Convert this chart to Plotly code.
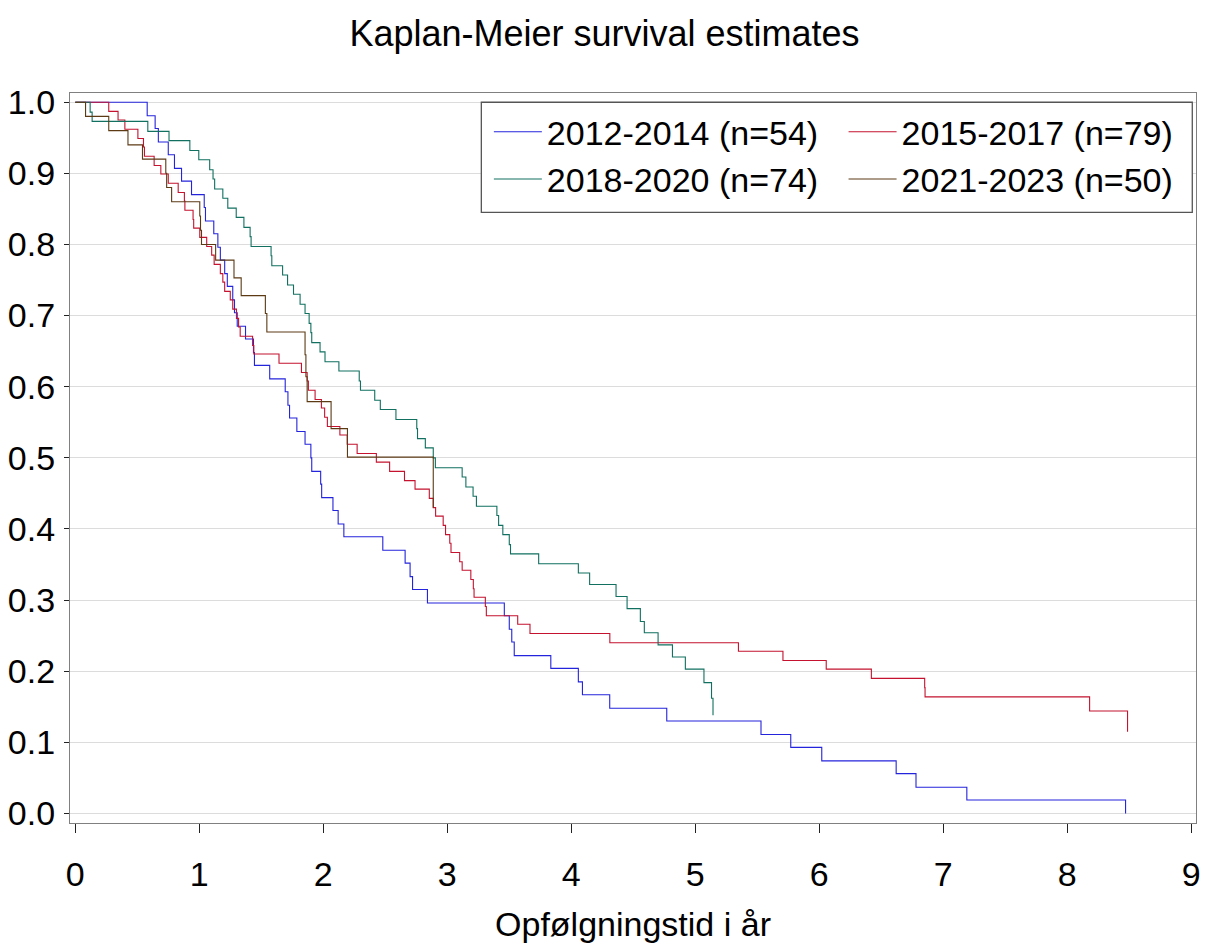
import plotly.graph_objects as go

# Kaplan-Meier step data per diagnosis period: event times (years) and survival after each event
t_2012 = [0.58, 0.644, 0.67, 0.75, 0.80, 0.857, 0.9375, 1.04, 1.05, 1.117, 1.15, 1.17, 1.205,
          1.226, 1.27, 1.284, 1.306, 1.373, 1.437, 1.445, 1.568, 1.693, 1.715, 1.728, 1.787,
          1.853, 1.90, 1.907, 1.979, 1.987, 2.078, 2.12, 2.166, 2.48, 2.66, 2.70, 2.72, 2.84,
          3.46, 3.50, 3.52, 3.54, 3.835, 4.057, 4.09, 4.31, 4.77, 5.53, 5.77, 6.02, 6.62, 6.78,
          7.19, 8.47]
s_2012 = [0.981, 0.963, 0.944, 0.926, 0.907, 0.889, 0.870, 0.852, 0.833, 0.815, 0.796, 0.778,
          0.759, 0.741, 0.722, 0.704, 0.685, 0.667, 0.648, 0.630, 0.611, 0.593, 0.574, 0.556,
          0.537, 0.519, 0.500, 0.481, 0.463, 0.444, 0.426, 0.407, 0.389, 0.370, 0.352, 0.333,
          0.315, 0.296, 0.278, 0.259, 0.241, 0.222, 0.204, 0.185, 0.167, 0.148, 0.130, 0.111,
          0.093, 0.074, 0.056, 0.037, 0.019, 0.000]

t_2015 = [0.27, 0.345, 0.40, 0.505, 0.55, 0.558, 0.636, 0.69, 0.75, 0.83, 0.88, 0.884, 0.95,
          0.955, 1.004, 1.06, 1.10, 1.12, 1.17, 1.19, 1.205, 1.25, 1.27, 1.30, 1.317, 1.33,
          1.43, 1.44, 1.643, 1.824, 1.87, 1.88, 1.934, 1.985, 2.011, 2.033, 2.134, 2.193,
          2.273, 2.428, 2.535, 2.655, 2.74, 2.855, 2.887, 2.906, 2.967, 2.986, 3.02, 3.03,
          3.10, 3.12, 3.19, 3.21, 3.216, 3.307, 3.315, 3.568, 3.667, 4.311, 5.348, 5.707,
          6.056, 6.42, 6.85, 6.853, 8.18, 8.486]
s_2015 = [0.987, 0.975, 0.962, 0.949, 0.937, 0.924, 0.911, 0.899, 0.886, 0.873, 0.861, 0.848,
          0.835, 0.823, 0.810, 0.797, 0.785, 0.772, 0.759, 0.747, 0.734, 0.722, 0.709, 0.696,
          0.684, 0.671, 0.658, 0.646, 0.633, 0.620, 0.608, 0.595, 0.582, 0.570, 0.557, 0.544,
          0.532, 0.519, 0.506, 0.494, 0.481, 0.468, 0.456, 0.443, 0.430, 0.418, 0.405, 0.392,
          0.380, 0.367, 0.354, 0.342, 0.329, 0.316, 0.304, 0.291, 0.278, 0.266, 0.253, 0.240,
          0.228, 0.215, 0.203, 0.190, 0.177, 0.164, 0.144, 0.115]

t_2018 = [0.12, 0.136, 0.585, 0.756, 0.924, 0.996, 1.084, 1.111, 1.124, 1.19, 1.23, 1.298,
          1.36, 1.41, 1.418, 1.579, 1.585, 1.672, 1.712, 1.76, 1.813, 1.853, 1.886, 1.90,
          1.907, 1.974, 2.014, 2.126, 2.29, 2.30, 2.415, 2.46, 2.586, 2.754, 2.76, 2.823,
          2.887, 2.904, 3.12, 3.15, 3.208, 3.235, 3.40, 3.414, 3.448, 3.50, 3.51, 3.737,
          4.057, 4.148, 4.361, 4.45, 4.557, 4.589, 4.70, 4.816, 4.92, 5.07, 5.131, 5.143]
s_2018 = [0.986, 0.973, 0.959, 0.946, 0.932, 0.919, 0.905, 0.892, 0.878, 0.865, 0.851, 0.838,
          0.824, 0.811, 0.797, 0.784, 0.770, 0.757, 0.743, 0.730, 0.716, 0.703, 0.689, 0.676,
          0.662, 0.649, 0.635, 0.622, 0.608, 0.595, 0.581, 0.568, 0.554, 0.541, 0.527, 0.514,
          0.500, 0.486, 0.473, 0.459, 0.446, 0.432, 0.419, 0.405, 0.392, 0.378, 0.365, 0.351,
          0.338, 0.322, 0.305, 0.288, 0.270, 0.254, 0.237, 0.220, 0.203, 0.184, 0.162, 0.138]

t_2021 = [0.083, 0.27, 0.425, 0.542, 0.73, 0.737, 0.777, 1.004, 1.01, 1.018, 1.132, 1.28,
          1.338, 1.533, 1.545, 1.853, 1.86, 1.87, 2.063, 2.195, 2.887]
s_2021 = [0.980, 0.960, 0.940, 0.920, 0.900, 0.880, 0.860, 0.840, 0.820, 0.800, 0.778, 0.753,
          0.728, 0.703, 0.677, 0.645, 0.614, 0.579, 0.541, 0.501, 0.430]

labels = ["2012-2014 (n=54)", "2015-2017 (n=79)", "2018-2020 (n=74)", "2021-2023 (n=50)"]
colors = ["#2424dc", "#c4122f", "#11705f", "#5c3a14"]
legend_slot = ["legend", "legend2", "legend", "legend2"]
legend_rank = [1, 1, 2, 2]
series = [(t_2012, s_2012), (t_2015, s_2015), (t_2018, s_2018), (t_2021, s_2021)]

FONT = "Liberation Sans, Arial, sans-serif"

fig = go.Figure()
for (times, surv), name, col, lg, rk in zip(series, labels, colors, legend_slot, legend_rank):
    fig.add_trace(go.Scatter(
        x=[0.0] + times, y=[1.0] + surv,
        mode="lines", line=dict(color=col, width=1.1, shape="hv"),
        name=name, legend=lg, legendrank=rk,
    ))

legend_style = dict(
    bgcolor="rgba(0,0,0,0)", borderwidth=0,
    font=dict(family=FONT, size=34, color="#000000"),
    itemwidth=48, tracegroupgap=0,
    xanchor="left", yanchor="top", yref="paper", xref="paper",
)

fig.update_layout(
    width=1209, height=949,
    margin=dict(l=68, r=8, t=93, b=126),
    paper_bgcolor="white", plot_bgcolor="white",
    font=dict(family=FONT, size=34, color="#000000"),
    title=dict(text="Kaplan-Meier survival estimates", x=0.5, xref="container",
               y=1 - 33 / 949, yref="container", yanchor="middle", xanchor="center",
               font=dict(family=FONT, size=36, color="#000000")),
    showlegend=True,
    legend=dict(x=0.372, y=0.986, **legend_style),
    legend2=dict(x=0.687, y=0.986, **legend_style),
    xaxis=dict(
        range=[-0.0425, 9.038], tickmode="array", tickvals=list(range(10)),
        showgrid=False, zeroline=False,
        showline=True, mirror=True, linecolor="#808080", linewidth=1.3,
        ticks="outside", ticklen=9, tickwidth=1.2, tickcolor="#222222",
        ticklabelstandoff=12,
        title=dict(text="Opfølgningstid i år", standoff=20,
                   font=dict(family=FONT, size=34, color="#000000")),
    ),
    yaxis=dict(
        range=[-0.01336, 1.0129], tickmode="array",
        tickvals=[i / 10 for i in range(11)], tickformat=".1f",
        showgrid=True, gridcolor="#dcdcdc", gridwidth=1.3, zeroline=False,
        showline=True, mirror=True, linecolor="#808080", linewidth=1.3,
        ticks="outside", ticklen=5, tickwidth=1.2, tickcolor="#222222",
        ticklabelstandoff=2,
    ),
    shapes=[dict(type="rect", xref="paper", yref="paper",
                 x0=0.3653, x1=0.9967, y0=0.8366, y1=0.9873,
                 line=dict(color="#555555", width=1.3), fillcolor="white", layer="above")],
)

fig.write_html("out.html")
